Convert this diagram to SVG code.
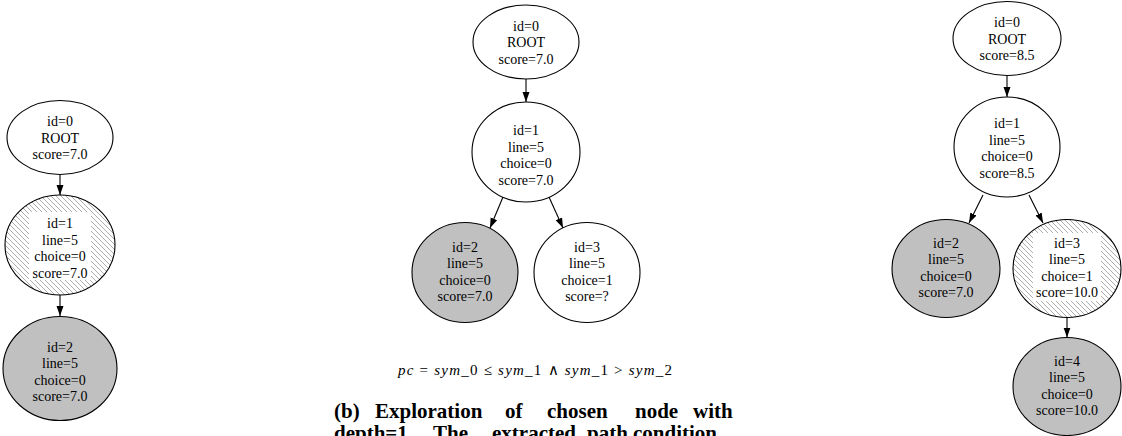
<svg xmlns="http://www.w3.org/2000/svg" width="1122" height="436" viewBox="0 0 1122 436">
<style>
.n{stroke:#000;stroke-width:1.1;fill:#fff}
.g{fill:#c0c0c0}
.h{fill:url(#hatch)}
.t{font-family:"Liberation Serif","Times New Roman",serif;font-size:14px;text-anchor:middle;fill:#000}
.e{stroke:#000;stroke-width:1.1;fill:none;marker-end:url(#arr)}
.cap{font-family:"Liberation Serif","Times New Roman",serif;font-size:21px;font-weight:bold;fill:#000}
.pc{font-family:"Liberation Serif","Times New Roman",serif;font-size:15px;fill:#000}
</style>
<defs>
<marker id="arr" viewBox="0 0 10 10" refX="10" refY="5" markerWidth="10" markerHeight="10" markerUnits="userSpaceOnUse" orient="auto">
<path d="M0,1.5 L10,5 L0,8.5 Z" fill="#000"/>
</marker>
<pattern id="hatch" patternUnits="userSpaceOnUse" width="5" height="5">
<rect width="5" height="5" fill="#fff"/>
<path d="M-1,-1 L6,6 M-1,4 L1,6 M4,-1 L6,1" stroke="#888" stroke-width="0.7"/>
</pattern>
</defs>
<rect width="1122" height="436" fill="#fff"/>

<g id="connectors">
<line class="e" x1="60" y1="175" x2="60" y2="195"/>
<line class="e" x1="60" y1="295" x2="60" y2="316"/>
<line class="e" x1="526" y1="79" x2="526" y2="102"/>
<line class="e" x1="503" y1="197" x2="490" y2="228"/>
<line class="e" x1="549" y1="197" x2="563" y2="228"/>
<line class="e" x1="1007" y1="75.5" x2="1007" y2="97"/>
<line class="e" x1="983" y1="195" x2="969" y2="223"/>
<line class="e" x1="1029" y1="195" x2="1043" y2="223"/>
<line class="e" x1="1067" y1="317.5" x2="1067" y2="337.5"/>
</g>

<g id="a0">
<ellipse class="n" cx="60" cy="137.5" rx="53" ry="37"/>
<text class="t" x="60" y="126">id=0</text>
<text class="t" x="60" y="142.5">ROOT</text>
<text class="t" x="60" y="159">score=7.0</text>
</g>
<g id="a1">
<ellipse class="n h" cx="60" cy="245" rx="55" ry="50"/>
<rect x="29" y="212" width="62" height="68" fill="#fff"/>
<text class="t" x="60" y="228">id=1</text>
<text class="t" x="60" y="244.5">line=5</text>
<text class="t" x="60" y="261">choice=0</text>
<text class="t" x="60" y="277.5">score=7.0</text>
</g>
<g id="a2">
<ellipse class="n g" cx="60" cy="368.5" rx="57" ry="52"/>
<text class="t" x="60" y="351.5">id=2</text>
<text class="t" x="60" y="368">line=5</text>
<text class="t" x="60" y="384.5">choice=0</text>
<text class="t" x="60" y="401">score=7.0</text>
</g>

<g id="b0">
<ellipse class="n" cx="526" cy="42" rx="53" ry="37"/>
<text class="t" x="526" y="30.5">id=0</text>
<text class="t" x="526" y="47">ROOT</text>
<text class="t" x="526" y="63.5">score=7.0</text>
</g>
<g id="b1">
<ellipse class="n" cx="526" cy="152" rx="54" ry="50"/>
<text class="t" x="526" y="135">id=1</text>
<text class="t" x="526" y="151.5">line=5</text>
<text class="t" x="526" y="168">choice=0</text>
<text class="t" x="526" y="184.5">score=7.0</text>
</g>
<g id="b2">
<ellipse class="n g" cx="465" cy="272.5" rx="53" ry="50"/>
<text class="t" x="465" y="251.5">id=2</text>
<text class="t" x="465" y="268">line=5</text>
<text class="t" x="465" y="284.5">choice=0</text>
<text class="t" x="465" y="301">score=7.0</text>
</g>
<g id="b3">
<ellipse class="n" cx="587" cy="272.5" rx="53" ry="50"/>
<text class="t" x="587" y="251.5">id=3</text>
<text class="t" x="587" y="268">line=5</text>
<text class="t" x="587" y="284.5">choice=1</text>
<text class="t" x="587" y="301">score=?</text>
</g>

<text class="pc" x="398" y="375" textLength="274" lengthAdjust="spacing"><tspan font-style="italic">pc</tspan> = <tspan font-style="italic">sym_</tspan>0 ≤ <tspan font-style="italic">sym_</tspan>1 ∧ <tspan font-style="italic">sym_</tspan>1 &gt; <tspan font-style="italic">sym_</tspan>2</text>

<g id="caption">
<text class="cap" x="334" y="418">(b)</text>
<text class="cap" x="375" y="418">Exploration</text>
<text class="cap" x="505" y="418">of</text>
<text class="cap" x="547" y="418">chosen</text>
<text class="cap" x="635" y="418">node</text>
<text class="cap" x="693" y="418">with</text>
<text class="cap" x="334" y="440">depth=1.</text>
<text class="cap" x="433" y="440">The</text>
<text class="cap" x="492" y="440">extracted</text>
<text class="cap" x="587" y="440">path</text>
<text class="cap" x="633" y="440">condition</text>
</g>

<g id="c0">
<ellipse class="n" cx="1007" cy="38.5" rx="54" ry="37"/>
<text class="t" x="1007" y="27">id=0</text>
<text class="t" x="1007" y="43.5">ROOT</text>
<text class="t" x="1007" y="60">score=8.5</text>
</g>
<g id="c1">
<ellipse class="n" cx="1007" cy="147" rx="53" ry="50"/>
<text class="t" x="1007" y="128">id=1</text>
<text class="t" x="1007" y="144.5">line=5</text>
<text class="t" x="1007" y="161">choice=0</text>
<text class="t" x="1007" y="177.5">score=8.5</text>
</g>
<g id="c2">
<ellipse class="n g" cx="946" cy="268.5" rx="54" ry="49"/>
<text class="t" x="946" y="247.5">id=2</text>
<text class="t" x="946" y="264">line=5</text>
<text class="t" x="946" y="280.5">choice=0</text>
<text class="t" x="946" y="297">score=7.0</text>
</g>
<g id="c3">
<ellipse class="n h" cx="1067" cy="268.5" rx="54" ry="49"/>
<rect x="1033" y="233" width="68" height="68" fill="#fff"/>
<text class="t" x="1067" y="247.5">id=3</text>
<text class="t" x="1067" y="264">line=5</text>
<text class="t" x="1067" y="280.5">choice=1</text>
<text class="t" x="1067" y="297">score=10.0</text>
</g>
<g id="c4">
<ellipse class="n g" cx="1067" cy="386.5" rx="54" ry="49"/>
<text class="t" x="1067" y="365.5">id=4</text>
<text class="t" x="1067" y="382">line=5</text>
<text class="t" x="1067" y="398.5">choice=0</text>
<text class="t" x="1067" y="415">score=10.0</text>
</g>
</svg>
